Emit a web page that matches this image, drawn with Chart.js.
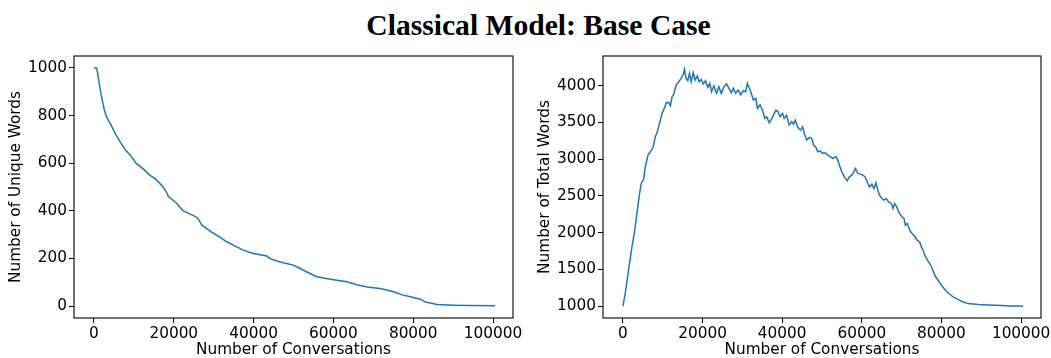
<!DOCTYPE html>
<html>
<head>
<meta charset="utf-8">
<script src="https://cdn.jsdelivr.net/npm/chart.js@4/dist/chart.umd.min.js"></script>
<style>
  html, body { margin: 0; padding: 0; background: #fff; }
  body { width: 1051px; height: 358px; position: relative; overflow: hidden; }
  #title { position: absolute; left: 538.5px; top: 11px; transform: translateX(-50%);
           font-family: "Liberation Serif", "Times New Roman", serif; font-weight: bold;
           font-size: 29.6px; line-height: 1; white-space: nowrap; color: #000; }
  .box { position: absolute; top: 0; height: 358px; }
  #b1 { left: 0; width: 525px; }
  #b2 { left: 525px; width: 526px; }
</style>
</head>
<body>
<div id="title">Classical Model: Base Case</div>
<div class="box" id="b1"><canvas id="c1"></canvas></div>
<div class="box" id="b2"><canvas id="c2"></canvas></div>
<script>
// ---- data ----
const uniqueX = [0,700,1730,2580,3170,4250,5500,6760,8010,9280,10530,12630,13890,15560,17240,18080,18660,20590,22260,25190,26030,27040,29380,31480,33240,34900,37410,39920,43290,44120,46630,49970,51660,53740,55850,59200,63390,65900,68420,71760,75100,77210,79300,81810,83070,86000,90180,94370,100500];
const uniqueWords = [1000,1000,894,824,793,761,719,684,653,630,600,572,551,532,502,481,460,434,401,378,369,340,312,291,270,256,235,221,210,199,185,172,158,140,123,113,102,90,80,74,60,47,39,29,17,7,4,2,1];

const totalX = [0,580,1410,2270,2850,3530,4190,4610,5190,5620,6300,6880,7560,8140,8570,8980,9400,9830,10410,10920,11500,11930,12350,12760,13360,14030,14620,15130,15460,15880,16300,16720,17150,17650,18150,18660,19160,19670,20170,20750,21330,21840,22260,22840,23520,24100,24710,25370,26050,26630,27230,27740,28320,28900,29580,30260,30840,31270,32100,32780,33360,33790,34440,35050,35630,36130,36710,37320,37820,38400,38980,39490,40090,40500,41100,41760,42370,42870,43270,43870,44540,45130,45540,46150,46800,47400,47910,48490,48920,49500,50180,50760,51440,52090,52700,53530,53960,54360,54970,55630,56300,56880,57490,57990,58400,59000,59660,60260,60840,61520,61930,62530,63040,63540,64040,64450,65060,65560,66140,66720,67400,67830,68230,68660,69090,69490,70100,70600,70930,71430,72010,72620,73270,73880,74530,74960,75390,75800,76470,77060,77660,78320,79170,80000,80840,81690,82950,84210,85470,86740,89260,91780,95130,97650,100500];
const totalWords = [1000,1170,1488,1805,1987,2260,2532,2668,2723,2894,3054,3099,3158,3303,3357,3439,3530,3622,3690,3771,3766,3725,3848,3880,4007,4052,4098,4143,4221,4098,4066,4166,4052,4175,4075,4130,4052,4085,4021,4066,3976,4030,3916,3993,3894,3984,3894,3984,4021,3962,3902,3962,3894,3939,3875,3929,3916,4030,3916,3803,3826,3690,3735,3666,3553,3575,3494,3540,3598,3666,3643,3575,3622,3553,3598,3462,3507,3476,3530,3439,3394,3439,3349,3258,3295,3281,3190,3158,3099,3112,3077,3085,3054,3031,3009,3031,2986,2918,2826,2758,2704,2758,2781,2826,2873,2805,2795,2781,2758,2668,2622,2659,2600,2677,2577,2509,2464,2441,2464,2418,2396,2328,2396,2359,2305,2260,2213,2192,2100,2124,2032,1987,1950,1896,1873,1805,1760,1692,1624,1579,1511,1419,1351,1283,1225,1178,1124,1088,1056,1034,1020,1015,1007,1001,1001];

const xTicks = [0,20000,40000,60000,80000,100000];
const uniqueTicks = [0,200,400,600,800,1000];
const totalTicks = [1000,1500,2000,2500,3000,3500,4000];

const xLabel = "Number of Conversations";
const uniqueLabel = "Number of Unique Words";
const totalLabel = "Number of Total Words";

// ---- chart construction ----
const FONT = "'DejaVu Sans', sans-serif";
const FS = 15.3;
const frame = {
  id: 'frame',
  afterDraw(chart) {
    const a = chart.chartArea, ctx = chart.ctx;
    ctx.save();
    ctx.strokeStyle = '#000';
    ctx.lineWidth = 1.1;
    ctx.strokeRect(a.left, a.top, a.right - a.left, a.bottom - a.top);
    ctx.restore();
  }
};

function makeChart(id, xs, ys, yMin, yMax, yTicks, yTitle, yWidth, yTitlePad, padRight) {
  const fixTicks = arr => scale => { scale.ticks = arr.map(v => ({ value: v })); };
  return new Chart(document.getElementById(id), {
    type: 'line',
    data: { datasets: [{
      data: xs.map((x, i) => ({ x: x, y: ys[i] })),
      borderColor: '#1f77b4', borderWidth: 1.5, pointRadius: 0, tension: 0, fill: false
    }]},
    options: {
      responsive: true, maintainAspectRatio: false, animation: false,
      layout: { padding: { left: 0, top: 56, right: padRight, bottom: 0 } },
      plugins: { legend: { display: false }, tooltip: { enabled: false }, title: { display: false } },
      scales: {
        x: {
          type: 'linear', min: -5000, max: 105000,
          afterBuildTicks: fixTicks(xTicks),
          afterFit: s => { s.height = 40; s.paddingLeft = 0; s.paddingRight = 0; },
          border: { display: false },
          grid: { display: true, drawOnChartArea: false, drawTicks: true, tickLength: 5, tickColor: '#000', tickWidth: 1 },
          ticks: { color: '#000', padding: 2, maxRotation: 0, autoSkip: false,
                   font: { family: FONT, size: FS }, callback: v => String(v) },
          title: { display: true, text: xLabel, color: '#000', padding: { top: 0, bottom: 0 },
                   font: { family: FONT, size: FS, lineHeight: 1 } }
        },
        y: {
          type: 'linear', min: yMin, max: yMax,
          afterBuildTicks: fixTicks(yTicks),
          afterFit: s => { s.width = yWidth; s.paddingTop = 0; s.paddingBottom = 0; },
          border: { display: false },
          grid: { display: true, drawOnChartArea: false, drawTicks: true, tickLength: 5, tickColor: '#000', tickWidth: 1 },
          ticks: { color: '#000', padding: 2, autoSkip: false,
                   font: { family: FONT, size: FS }, callback: v => String(v) },
          title: { display: true, text: yTitle, color: '#000', padding: { top: yTitlePad, bottom: 0 },
                   font: { family: FONT, size: FS, lineHeight: 1 } }
        }
      }
    },
    plugins: [frame]
  });
}

makeChart('c1', uniqueX, uniqueWords, -50, 1050, uniqueTicks, uniqueLabel, 74, 8.5, 12);
makeChart('c2', totalX, totalWords, 838, 4402, totalTicks, totalLabel, 78, 12, 10);
</script>
</body>
</html>
